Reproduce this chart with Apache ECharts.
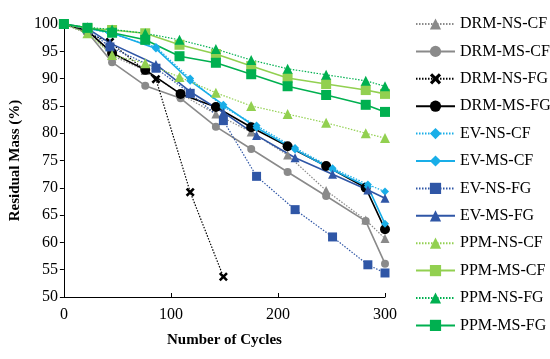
<!DOCTYPE html>
<html><head><meta charset="utf-8">
<script src="https://cdn.jsdelivr.net/npm/echarts@6/dist/echarts.min.js"></script>
<style>html,body{margin:0;padding:0;background:#fff}#c{width:550px;height:359px}</style>
</head><body><div id="c"></div>
<script>
var drmCycles = [0,22,45,76,109,142,175,209,245,282,300];
var drmNsFgCycles = [0,43,86,118,149];
var evCycles = [0,22,43,86,118,149,180,216,251,284,300];
var ppmCycles = [0,22,45,76,108,142,175,209,245,282,300];

var drmNsCf = [100,98.8,94.2,91.5,87.2,83.5,80.2,76.0,69.5,64.1,60.7];
var drmMsCf = [100,98.5,93.0,88.7,86.4,81.2,77.1,72.9,68.5,63.9,56.1];
var drmNsFg = [100,96.7,89.9,69.2,53.7];
var drmMsFg = [100,98.8,94.7,91.6,87.2,84.8,81.1,77.6,74.0,70.0,62.4];
var evNsCf = [100,99.2,98.3,95.8,90.0,84.8,81.4,77.3,73.6,70.6,69.3];
var evMsCf = [100,99.2,98.5,95.5,89.6,85.2,81.0,77.0,73.3,70.2,63.4];
var evNsFg = [100,99.0,95.8,91.9,87.3,82.3,72.1,66.0,61.0,55.9,54.4];
var evMsFg = [100,99.2,96.5,92.6,87.6,83.8,79.6,75.5,72.5,69.6,68.1];
var ppmNsCf = [100,98.3,94.3,92.8,90.3,87.4,85.0,83.5,81.9,80.0,79.1];
var ppmMsCf = [100,99.2,98.9,98.3,96.2,94.5,92.3,90.1,89.0,87.9,87.2];
var ppmNsFg = [100,99.4,99.0,98.3,97.1,95.4,93.4,91.8,90.7,89.6,88.6];
var ppmMsFg = [100,99.3,98.4,97.1,94.1,92.9,90.8,88.6,87.0,85.2,83.9];

var xTicks = [0,100,200,300];
var yTicks = [50,55,60,65,70,75,80,85,90,95,100];

function pairs(xs, ys){ return xs.map(function(x,i){ return [x, ys[i]]; }); }

var crossPath = 'path://M2,0 L5,3 L8,0 L10,2 L7,5 L10,8 L8,10 L5,7 L2,10 L0,8 L3,5 L0,2 Z';
var gray = '#8a8a8a', black = '#000000', lblue = '#19aee8', dblue = '#2f56a6', lgreen = '#92d050', dgreen = '#00b050';
var dot = [1.5, 1.5];

function mk(name, xs, ys, color, symbol, size, dotted){
  return {
    name: name, type: 'line', data: pairs(xs, ys),
    symbol: symbol, symbolSize: size,
    itemStyle: {color: color},
    lineStyle: {color: color, width: dotted ? 1.2 : 1.6, type: dotted ? dot : 'solid'},
    animation: false
  };
}

var series = [
  mk('DRM-NS-CF', drmCycles, drmNsCf, gray, 'triangle', 9, true),
  mk('DRM-MS-CF', drmCycles, drmMsCf, gray, 'circle', 8, false),
  mk('DRM-NS-FG', drmNsFgCycles, drmNsFg, black, crossPath, 9, true),
  mk('DRM-MS-FG', drmCycles, drmMsFg, black, 'circle', 10, false),
  mk('EV-NS-CF', evCycles, evNsCf, lblue, 'diamond', 8, true),
  mk('EV-MS-CF', evCycles, evMsCf, lblue, 'diamond', 8, false),
  mk('EV-NS-FG', evCycles, evNsFg, dblue, 'rect', 9, true),
  mk('EV-MS-FG', evCycles, evMsFg, dblue, 'triangle', 9, false),
  mk('PPM-NS-CF', ppmCycles, ppmNsCf, lgreen, 'triangle', 10, true),
  mk('PPM-MS-CF', ppmCycles, ppmMsCf, lgreen, 'rect', 10, false),
  mk('PPM-NS-FG', ppmCycles, ppmNsFg, dgreen, 'triangle', 10, true),
  mk('PPM-MS-FG', ppmCycles, ppmMsFg, dgreen, 'rect', 10, false)
];

var font = '"Liberation Serif", "Times New Roman", serif';
var chart = echarts.init(document.getElementById('c'), null, {renderer: 'canvas'});
chart.setOption({
  animation: false,
  backgroundColor: '#fff',
  textStyle: {fontFamily: font},
  grid: {left: 61, right: 165, top: 24, bottom: 62, containLabel: false},
  legend: {
    orient: 'vertical', left: 410, top: 11,
    itemWidth: 39, itemHeight: 14, itemGap: 11.4,
    textStyle: {fontFamily: font, fontSize: 16, color: '#000'},
    data: series.map(function(s){ return s.name; })
  },
  xAxis: {
    type: 'value', min: 0, max: 300, interval: 100,
    name: 'Number of Cycles', nameLocation: 'middle', nameGap: 36,
    nameTextStyle: {fontFamily: font, fontSize: 15, fontWeight: 'bold', color: '#000'},
    axisLine: {lineStyle: {color: '#000', width: 1}},
    axisTick: {inside: true, length: 4, lineStyle: {color: '#000'}},
    axisLabel: {fontFamily: font, fontSize: 16, color: '#000', margin: 10,
      formatter: function(v){ return xTicks.indexOf(v) >= 0 ? String(v) : ''; }},
    splitLine: {show: false}
  },
  yAxis: {
    type: 'value', min: 50, max: 100, interval: 5,
    name: 'Residual Mass (%)', nameLocation: 'middle', nameGap: 40,
    nameTextStyle: {fontFamily: font, fontSize: 15, fontWeight: 'bold', color: '#000'},
    axisLine: {show: true, lineStyle: {color: '#000', width: 1}},
    axisTick: {show: true, length: 4, lineStyle: {color: '#000'}},
    axisLabel: {fontFamily: font, fontSize: 16, color: '#000', margin: 6,
      formatter: function(v){ return yTicks.indexOf(v) >= 0 ? String(v) : ''; }},
    splitLine: {show: false}
  },
  series: series
});
</script>
</body></html>
